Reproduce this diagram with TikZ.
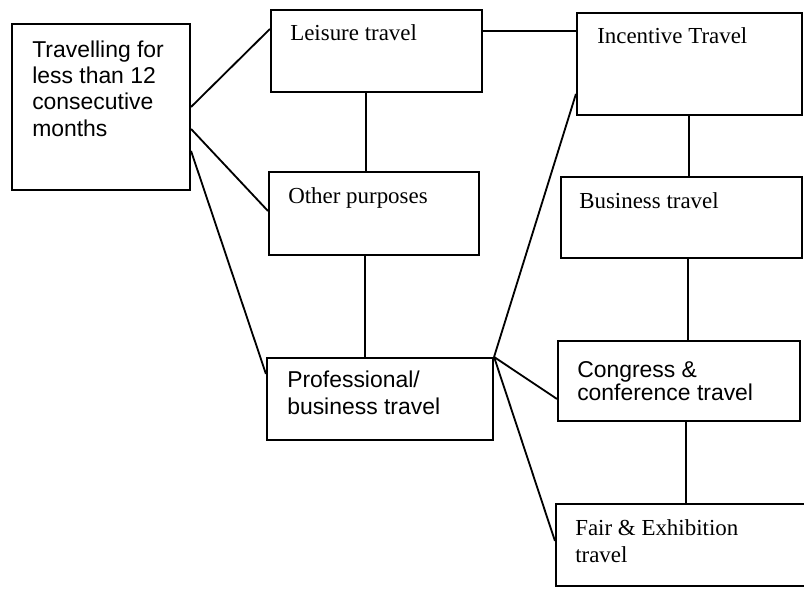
\documentclass[tikz,border=0pt]{standalone}
\usepackage{fontspec}
\setmainfont{Liberation Serif}
\setsansfont{Liberation Sans}
\usetikzlibrary{calc}

\def\px{0.025}
\tikzset{
	kasten/.style={draw,line width=1.5pt,inner sep=0pt},
	linie/.style={line width=1.3pt},
	serif/.style={anchor=base west,inner sep=0pt,align=left,font=\fontsize{16.3}{19.2}\selectfont},
	grotesk/.style={serif,font=\sffamily\fontsize{16.3}{19.2}\selectfont}
}
% name, linke obere Ecke, rechte untere Ecke
\def\kasten#1#2#3#4#5{
	\node[kasten,minimum width={(#4-#2)*\px cm},minimum height={(#5-#3)*\px cm}]
		(#1) at ({(#2+#4)/2},{(#3+#5)/2}) {};
}

\begin{document}
\begin{tikzpicture}[x=\px cm,y=-\px cm]
\useasboundingbox (0,0) rectangle (804,588);

\kasten{reise}{12}{24}{190}{190}
\kasten{freizeit}{271}{10}{482}{92}
\kasten{andere}{269}{172}{479}{255}
\kasten{beruf}{267}{358}{493}{440}
\kasten{anreiz}{577}{13}{802}{115}
\kasten{geschaeft}{561}{177}{802}{258}
\kasten{kongress}{558}{341}{800}{421}
\kasten{messe}{556}{504}{840}{586}

% bei mehrzeiligen Texten liegt base auf der letzten Zeile
\node[grotesk,font=\sffamily\fontsize{16.3}{18.5}\selectfont] (treise) at (32,136)
	{Travelling for\\less than 12\\consecutive\\months};
\node[serif] (tfreizeit) at (290,40) {Leisure travel};
\node[serif] (tandere) at (288,203) {Other purposes};
\node[grotesk] (tberuf) at (287,414) {Professional/\\business travel};
\node[serif] (tanreiz) at (597,43) {Incentive Travel};
\node[serif] (tgeschaeft) at (579,208) {Business travel};
\node[grotesk,font=\sffamily\fontsize{16.3}{15}\selectfont] (tkongress) at (577,400)
	{Congress \&\\conference travel};
\node[serif] (tmesse) at (575,562) {Fair \& Exhibition\\travel};

\draw[linie] ($(reise.north east)+(0,84)$) -- ($(freizeit.north west)+(0,20)$);
\draw[linie] ($(reise.north east)+(0,106)$) -- ($(andere.north west)+(0,40)$);
\draw[linie] ($(reise.north east)+(0,128)$) -- ($(beruf.north west)+(0,17)$);
\draw[linie] ($(freizeit.north east)+(0,22)$) -- ($(anreiz.north west)+(0,19)$);

\draw[linie] ($(freizeit.south west)+(96,0)$) -- ($(andere.north west)+(98,0)$);
\draw[linie] ($(andere.south west)+(97,0)$) -- ($(beruf.north west)+(99,0)$);

\draw[linie] (beruf.north east) -- ($(anreiz.north west)+(0,82)$);
\draw[linie] (beruf.north east) -- ($(kongress.north west)+(0,59)$);
\draw[linie] (beruf.north east) -- ($(messe.north west)+(0,38)$);

\draw[linie] ($(anreiz.south west)+(113,0)$) -- ($(geschaeft.north west)+(129,0)$);
\draw[linie] ($(geschaeft.south west)+(128,0)$) -- ($(kongress.north west)+(131,0)$);
\draw[linie] ($(kongress.south west)+(129,0)$) -- ($(messe.north west)+(131,0)$);
\end{tikzpicture}
\end{document}
